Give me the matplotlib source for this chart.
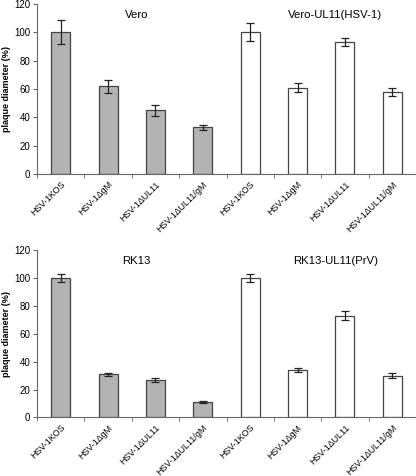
import matplotlib
matplotlib.use('Agg')
import matplotlib.pyplot as plt
import numpy as np

labels = ['HSV-1KOS', 'HSV-1\u0394gM', 'HSV-1\u0394UL11', 'HSV-1\u0394UL11/gM',
          'HSV-1KOS', 'HSV-1\u0394gM', 'HSV-1\u0394UL11', 'HSV-1\u0394UL11/gM']

# top panel: Vero (gray) and Vero-UL11(HSV-1) (white)
vero = [100, 62, 45, 33]
vero_err = [8.5, 4.5, 4, 2]
vero_ul11 = [100, 61, 93, 58]
vero_ul11_err = [6.5, 3, 3, 3]

# bottom panel: RK13 (gray) and RK13-UL11(PrV) (white)
rk13 = [100, 31, 27, 11]
rk13_err = [3, 1, 1.5, 0.7]
rk13_ul11 = [100, 34, 73, 30]
rk13_ul11_err = [3, 1.5, 3, 1.5]

plt.rcParams['font.family'] = ['Liberation Sans', 'DejaVu Sans']

fig = plt.figure(figsize=(4.16, 4.76), dpi=100)
ax1 = fig.add_axes([0.089, 0.634, 0.911, 0.358])
ax2 = fig.add_axes([0.089, 0.123, 0.911, 0.352])


def panel(ax, gray, gray_err, white, white_err, t1, t2):
    x = np.arange(8)
    vals = gray + white
    errs = gray_err + white_err
    colors = ['#b3b3b3'] * 4 + ['white'] * 4
    ax.bar(x, vals, width=0.4, color=colors, edgecolor='#444444', linewidth=0.9,
           yerr=errs, error_kw=dict(ecolor='#222222', elinewidth=0.9, capsize=3, capthick=0.9))
    ax.set_xlim(-0.5, 7.5)
    ax.set_ylim(0, 120)
    ax.set_yticks([0, 20, 40, 60, 80, 100, 120])
    ax.set_xticks(x)
    ax.set_xticklabels(labels, rotation=45, ha='right', rotation_mode='anchor', fontsize=6.4)
    ax.set_xticks(np.arange(-0.5, 8, 1), minor=True)
    ax.tick_params(axis='x', which='major', length=0, pad=4)
    ax.tick_params(axis='x', which='minor', length=3, color='#666666')
    ax.tick_params(axis='y', labelsize=7, length=3, color='#666666', pad=2)
    ax.spines['top'].set_visible(False)
    ax.spines['right'].set_visible(False)
    ax.spines['left'].set_color('#666666')
    ax.spines['bottom'].set_color('#666666')
    ax.set_ylabel('plaque diameter (%)', fontsize=6.5, fontweight='bold', labelpad=2)
    ax.text(1.6, 112, t1, fontsize=8.2, ha='center', va='center')
    ax.text(5.8, 112, t2, fontsize=8.2, ha='center', va='center')


panel(ax1, vero, vero_err, vero_ul11, vero_ul11_err, 'Vero', 'Vero-UL11(HSV-1)')
panel(ax2, rk13, rk13_err, rk13_ul11, rk13_ul11_err, 'RK13', 'RK13-UL11(PrV)')

fig.savefig('out.png', dpi=100)
